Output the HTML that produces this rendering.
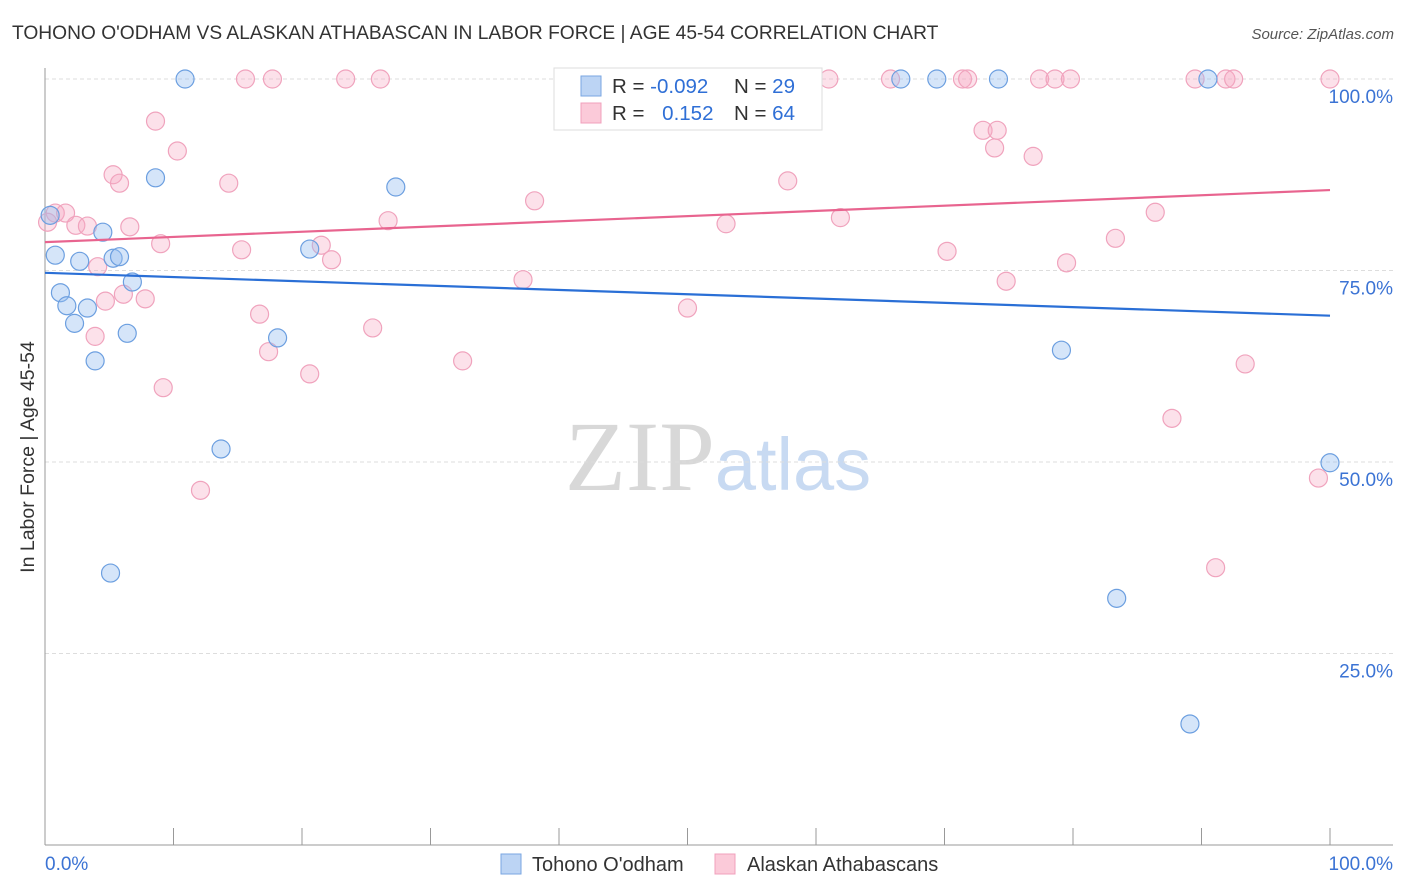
<!DOCTYPE html>
<html><head><meta charset="utf-8"><style>
body{margin:0;background:#fff;font-family:"Liberation Sans",sans-serif}
</style></head><body>
<svg id="chart" width="1406" height="892" xmlns="http://www.w3.org/2000/svg" style="display:block">
<text x="12" y="39" font-size="19.2" fill="#333">TOHONO O'ODHAM VS ALASKAN ATHABASCAN IN LABOR FORCE | AGE 45-54 CORRELATION CHART</text>
<text x="1394" y="39" font-size="15" fill="#555" font-style="italic" text-anchor="end">Source: ZipAtlas.com</text>
<text x="718" y="490" font-size="100" font-family="Liberation Serif,serif" fill="#d8d8d8" text-anchor="middle">ZIP<tspan fill="#c8daf2" font-family="Liberation Sans,sans-serif" font-size="74">atlas</tspan></text>
<g id="grid"></g><g id="axes"></g><g id="marks"></g>
<text transform="translate(34,457) rotate(-90)" font-size="19.5" fill="#333" text-anchor="middle">In Labor Force | Age 45-54</text>
<g>
<rect x="554" y="68" width="268" height="62" fill="#fff" stroke="#ddd"/>
<rect x="581" y="76" width="20" height="20" fill="#bcd4f4" stroke="#7aa6e2"/>
<rect x="581" y="103" width="20" height="20" fill="#fbcad9" stroke="#f0a0bc"/>
<text x="612" y="93" font-size="20.5" fill="#333">R = <tspan fill="#2f6fd6">-0.092</tspan></text>
<text x="734" y="93" font-size="20.5" fill="#333">N = <tspan fill="#2f6fd6">29</tspan></text>
<text x="612" y="120" font-size="20.5" fill="#333">R = <tspan fill="#2f6fd6" dx="12">0.152</tspan></text>
<text x="734" y="120" font-size="20.5" fill="#333">N = <tspan fill="#2f6fd6">64</tspan></text>
</g>
<g>
<rect x="501" y="854" width="20" height="20" fill="#bcd4f4" stroke="#7aa6e2"/>
<text x="532" y="871" font-size="20" fill="#333">Tohono O'odham</text>
<rect x="715" y="854" width="20" height="20" fill="#fbcad9" stroke="#f0a0bc"/>
<text x="747" y="871" font-size="20" fill="#333">Alaskan Athabascans</text>
</g>
</svg>
<script>
const yTicks=[100,75,50,25];
const yTickLabels=["100.0%","75.0%","50.0%","25.0%"];
const xTicks=[0,10,20,30,40,50,60,70,80,90,100];
const blueX=[10.9,47.5,66.6,69.4,74.2,90.5,8.6,27.3,4.5,0.8,2.7,5.3,5.8,20.6,6.8,1.2,1.7,3.3,2.3,6.4,18.1,3.9,13.7,5.1,79.1,100,83.4,89.1,0.4];
const blueY=[100,100,100,100,100,100,87.1,85.9,80.0,77.0,76.2,76.6,76.8,77.8,73.5,72.1,70.4,70.1,68.1,66.8,66.2,63.2,51.7,35.5,64.6,49.9,32.2,15.8,82.2];
const pinkX=[15.6,17.7,23.4,26.1,61.0,65.8,71.4,71.8,77.4,78.6,79.8,89.5,91.9,92.5,100,8.6,10.3,5.3,5.8,14.3,38.1,57.8,73.0,74.1,73.9,76.9,0.8,1.6,2.4,3.3,6.6,26.7,53.0,61.9,86.4,9.0,15.3,21.5,22.3,4.1,37.2,70.2,83.3,79.5,74.8,4.7,6.1,7.8,16.7,50.0,25.5,3.9,17.4,20.6,32.5,9.2,93.4,87.7,12.1,99.1,91.1,0.2];
const pinkY=[100,100,100,100,100,100,100,100,100,100,100,100,100,100,100,94.5,90.6,87.5,86.4,86.4,84.1,86.7,93.3,93.3,91.0,89.9,82.5,82.5,80.9,80.8,80.7,81.5,81.1,81.9,82.6,78.5,77.7,78.3,76.4,75.5,73.8,77.5,79.2,76.0,73.6,71.0,71.9,71.3,69.3,70.1,67.5,66.4,64.4,61.5,63.2,59.7,62.8,55.7,46.3,47.9,36.2,81.3];
const blueTrend=[74.7,69.1];
const pinkTrend=[78.7,85.5];
const NS="http://www.w3.org/2000/svg";
const X=v=>45+v*12.85, Y=v=>845-v*7.66;
function mk(t,a,p){const e=document.createElementNS(NS,t);for(const k in a)e.setAttribute(k,a[k]);p.appendChild(e);return e;}
const grid=document.getElementById('grid'),axes=document.getElementById('axes'),marks=document.getElementById('marks');
yTicks.forEach((t,i)=>{
 const l=mk('line',{x1:45,x2:1393,y1:Y(t),y2:Y(t),stroke:'#ddd','stroke-dasharray':'4,3'},grid);
 
 
 const tx=mk('text',{x:1393,y:Y(t)+24,'font-size':19,fill:'#3b73d4','text-anchor':'end'},axes);
 tx.textContent=yTickLabels[i];
 
 
});
const la=mk('line',{x1:45,x2:45,y1:68,y2:845,stroke:'#999'},axes);


const ba=mk('line',{x1:45,x2:1393,y1:845,y2:845,stroke:'#999'},axes);


xTicks.forEach(t=>{
 const l=mk('line',{x1:X(t),x2:X(t),y1:828,y2:845,stroke:'#999'},axes);
 
 
});
const x0=mk('text',{x:45,y:870,'font-size':19,fill:'#3b73d4'},axes);x0.textContent='0.0%';


const x1=mk('text',{x:1393,y:870,'font-size':19,fill:'#3b73d4','text-anchor':'end'},axes);x1.textContent='100.0%';


function dots(xs,ys,fill,stroke,name){xs.forEach((x,i)=>{
 const c=mk('circle',{cx:X(x),cy:Y(ys[i]),r:9,fill:fill,stroke:stroke,'stroke-width':1.2},marks);
 
 
});}
dots(pinkX,pinkY,'rgba(246,168,195,0.35)','#f0a3bd','athabascan-point');
dots(blueX,blueY,'rgba(150,190,240,0.4)','#6c9fe0','tohono-point');
const bt=mk('line',{x1:X(0),x2:X(100),y1:Y(blueTrend[0]),y2:Y(blueTrend[1]),stroke:'#2a6fd6','stroke-width':2.2},marks);


const pt=mk('line',{x1:X(0),x2:X(100),y1:Y(pinkTrend[0]),y2:Y(pinkTrend[1]),stroke:'#e8648f','stroke-width':2.2},marks);


</script>
</body></html>
